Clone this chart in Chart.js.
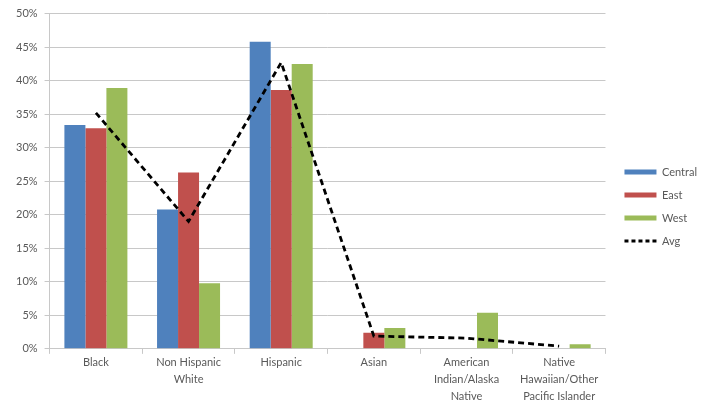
<!DOCTYPE html>
<html>
<head>
<meta charset="utf-8">
<script src="https://cdn.jsdelivr.net/npm/chart.js@4/dist/chart.umd.min.js"></script>
<style>
  html, body { margin: 0; padding: 0; background: #fff; }
  #wrap { width: 707px; height: 405px; }
</style>
</head>
<body>
<div id="wrap"><canvas id="chart" width="707" height="405"></canvas></div>
<script>
const categories = [
  "Black",
  ["Non Hispanic", "White"],
  "Hispanic",
  "Asian",
  ["American", "Indian/Alaska", "Native"],
  ["Native", "Hawaiian/Other", "Pacific Islander"]
];
const central = [33.4, 20.8, 45.8, 0, 0, 0];
const east = [32.9, 26.3, 38.6, 2.4, 0, 0];
const west = [38.9, 9.8, 42.5, 3.1, 5.4, 0.7];
const avg = [35.2, 19.0, 42.7, 1.9, 1.6, 0.4];

const textColor = "#595959";
const gridColor = "#c8c8c8";
Chart.defaults.font.family = "Lato, 'Open Sans', sans-serif";
Chart.defaults.font.size = 11;
Chart.defaults.color = textColor;

const ctx = document.getElementById("chart").getContext("2d");
new Chart(ctx, {
  type: "bar",
  data: {
    labels: categories,
    datasets: [
      { label: "Central", data: central, backgroundColor: "#4F81BD", borderColor: "#4F81BD", borderWidth: 0, order: 2 },
      { label: "East", data: east, backgroundColor: "#C0504D", borderColor: "#C0504D", borderWidth: 0, order: 2 },
      { label: "West", data: west, backgroundColor: "#9BBB59", borderColor: "#9BBB59", borderWidth: 0, order: 2 },
      {
        label: "Avg",
        type: "line",
        data: avg,
        borderColor: "#000",
        backgroundColor: "#000",
        borderWidth: 2.8,
        borderDash: [6, 4],
        pointRadius: 0,
        fill: false,
        tension: 0,
        order: 1
      }
    ]
  },
  options: {
    responsive: false,
    animation: false,
    layout: { padding: { left: 9, right: 0, top: 8, bottom: 0 } },
    datasets: {
      bar: { categoryPercentage: 0.68, barPercentage: 1.0 }
    },
    plugins: {
      tooltip: { enabled: false },
      legend: {
        position: "right",
        labels: {
          usePointStyle: true,
          pointStyleWidth: 32,
          boxHeight: 11,
          padding: 12,
          color: textColor,
          font: { size: 11 },
          sort: (a, b) => a.datasetIndex - b.datasetIndex,
          generateLabels: (chart) =>
            Chart.defaults.plugins.legend.labels.generateLabels(chart).map((l) => ({
              ...l,
              pointStyle: "line",
              lineWidth: l.text === "Avg" ? 2.8 : 5,
              lineDash: l.text === "Avg" ? [4, 3] : []
            }))
        }
      }
    },
    scales: {
      x: {
        grid: { display: true, offset: true, drawOnChartArea: false, tickLength: 5, color: gridColor },
        border: { color: gridColor },
        ticks: { color: textColor, maxRotation: 0, autoSkip: false, padding: 0, font: { size: 11, lineHeight: 1.55 } }
      },
      y: {
        min: 0,
        max: 50,
        grid: { color: gridColor, tickLength: 5 },
        border: { color: gridColor },
        ticks: { stepSize: 5, padding: 7, color: textColor, callback: (v) => v + "%" }
      },
      gap: {
        position: "right",
        display: true,
        grid: { display: false },
        border: { display: false },
        ticks: { display: false },
        afterFit: (s) => { s.width = 7; }
      }
    }
  }
});
</script>
</body>
</html>
